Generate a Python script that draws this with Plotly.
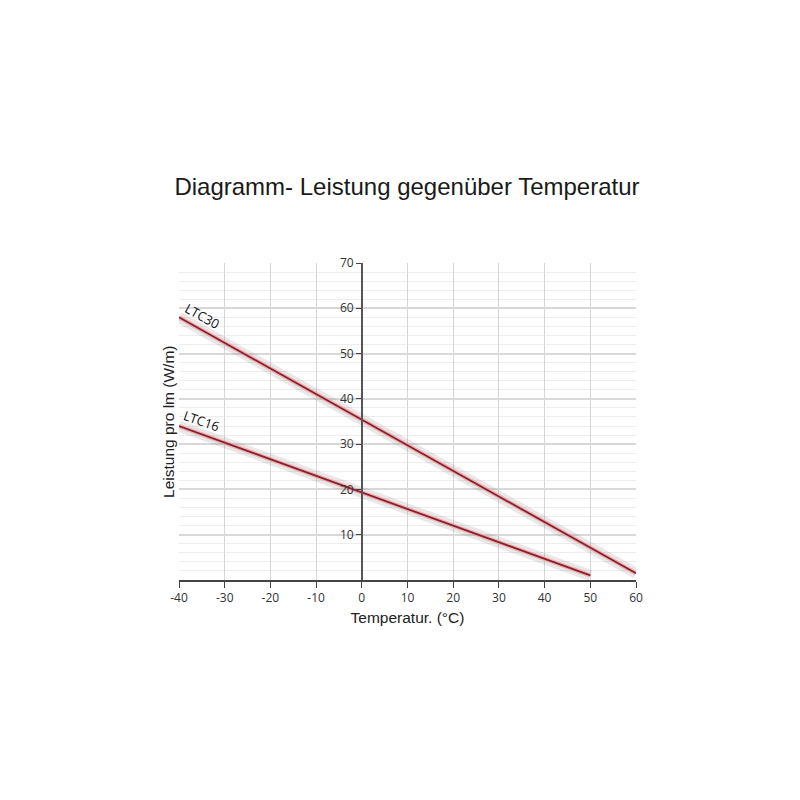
import plotly.graph_objects as go

# Data
temp_ltc30 = [-40, 60]
power_ltc30 = [58, 1.5]
temp_ltc16 = [-40, 50]
power_ltc16 = [34, 1]
series_names = ["LTC30", "LTC16"]
x_ticks = [-40, -30, -20, -10, 0, 10, 20, 30, 40, 50, 60]
x_tick_labels = ["-40", "-30", "-20", "-10", "0", "10", "20", "30", "40", "50", "60"]
y_ticks = [10, 20, 30, 40, 50, 60, 70]
y_tick_labels = ["10", "20", "30", "40", "50", "60", "70"]

title_text = "Diagramm- Leistung gegenüber Temperatur"
x_title = "Temperatur. (°C)"
y_title = "Leistung pro lm (W/m)"

W = H = 800
L, T = 171, 255
R = W - L - 457
B = H - T - 317
xmin, xmax = -40, 60
ypos = (0 - xmin) / (xmax - xmin)

narrow = "Liberation Sans, Arial, sans-serif"
tickf = "Open Sans, Noto Sans, sans-serif"

fig = go.Figure()
for xs, ys, name in [(temp_ltc30, power_ltc30, series_names[0]),
                     (temp_ltc16, power_ltc16, series_names[1])]:
    fig.add_trace(go.Scatter(x=xs, y=ys, mode="lines", showlegend=False,
                             line=dict(color="rgba(110,110,110,0.16)", width=11),
                             hoverinfo="skip"))
    fig.add_trace(go.Scatter(x=xs, y=ys, mode="lines", showlegend=False,
                             line=dict(color="rgba(240,160,160,0.7)", width=4.5),
                             hoverinfo="skip"))
    fig.add_trace(go.Scatter(x=xs, y=ys, mode="lines", name=name, showlegend=False,
                             line=dict(color="#8a1f2e", width=1.8)))

lab_font = dict(family=tickf, size=13, color="#111")
fig.add_annotation(x=temp_ltc30[0], y=power_ltc30[0], text=series_names[0],
                   showarrow=False, textangle=29, xanchor="left", yanchor="bottom",
                   xshift=0, yshift=-18, font=lab_font)
fig.add_annotation(x=temp_ltc16[0], y=power_ltc16[0], text=series_names[1],
                   showarrow=False, textangle=19, xanchor="left", yanchor="bottom",
                   xshift=0, yshift=-12, font=lab_font)

fig.add_annotation(xref="paper", yref="paper", x=-0.046, y=0.5, text=y_title,
                   showarrow=False, textangle=-90,
                   font=dict(family=narrow, size=15.5, color="#222"))

fig.update_layout(
    width=W, height=H,
    margin=dict(l=L, r=R, t=T, b=B),
    paper_bgcolor="white", plot_bgcolor="white",
    title=dict(text=title_text, x=(407 - 8) / W, xanchor="center",
               y=1 - (187 - 8) / H, yanchor="middle",
               font=dict(family=narrow, size=24, color="#1a1a1a")),
    xaxis=dict(range=[xmin, xmax], tickvals=x_ticks, ticktext=x_tick_labels,
               ticks="outside", ticklen=6,
               tickcolor="#444", showline=True, linecolor="#444", linewidth=1.5,
               showgrid=True, gridcolor="#d6d6d6", gridwidth=1, zeroline=False,
               tickfont=dict(family=tickf, size=12, color="#333"),
               title=dict(text=x_title, standoff=7,
                          font=dict(family=narrow, size=15.5, color="#222"))),
    yaxis=dict(range=[0, 70], tickvals=y_ticks, ticktext=y_tick_labels,
               ticks="outside", ticklen=5,
               tickcolor="#444", showline=True, linecolor="#555", linewidth=1.5,
               anchor="free", position=ypos,
               showgrid=True, gridcolor="#d8d8d8", gridwidth=2, zeroline=False,
               minor=dict(dtick=2, showgrid=True, gridcolor="#ededed", gridwidth=1),
               tickfont=dict(family=tickf, size=12, color="#333")),
)

fig.write_html("out.html")
